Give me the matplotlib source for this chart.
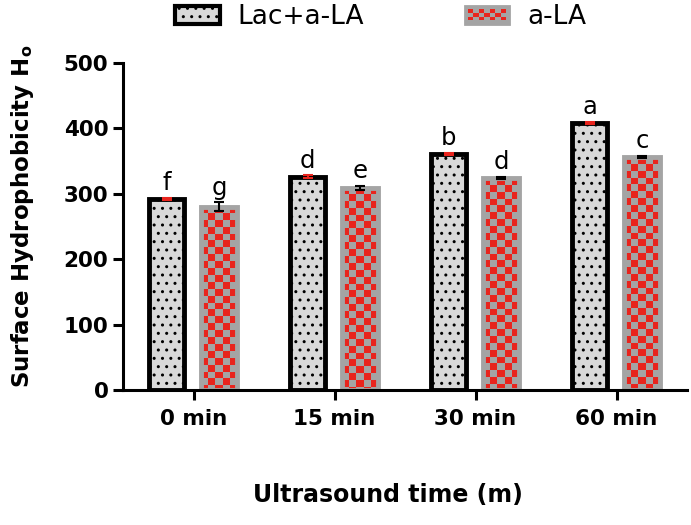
import matplotlib
matplotlib.use('Agg')
import matplotlib.pyplot as plt
import numpy as np
from matplotlib.patches import Rectangle, Patch
from matplotlib.colors import to_rgba

# data
times = ['0 min', '15 min', '30 min', '60 min']
lac_ala = [292, 326, 361, 408]
lac_ala_err = [2, 2, 2, 2]
ala = [280, 309, 324, 356]
ala_err = [7, 3, 1.5, 1.5]
lac_ala_letters = ['f', 'd', 'b', 'a']
ala_letters = ['g', 'e', 'd', 'c']

RED = '#e8241d'
GRAY = '#a4a4a4'
LIGHT = '#d9d9d9'

plt.rcParams['font.family'] = 'DejaVu Sans'
plt.rcParams['hatch.linewidth'] = 1.0


class CheckerHandler:
    """legend box with a red/gray checker, like the a-LA bars"""
    def legend_artist(self, legend, orig_handle, fontsize, handlebox):
        x0, y0 = -handlebox.xdescent, -handlebox.ydescent
        w, h = handlebox.width, handlebox.height
        tr = handlebox.get_transform()
        bg = Rectangle((x0, y0), w, h, facecolor=GRAY, edgecolor=GRAY, lw=2, transform=tr)
        handlebox.add_artist(bg)
        pad = 2.5
        ncol, nrow = 7, 3
        cw, ch = (w - 2 * pad) / ncol, (h - 2 * pad) / nrow
        for i in range(nrow):
            for j in range(ncol):
                if (i + j) % 2 == 0:
                    handlebox.add_artist(Rectangle((x0 + pad + j * cw, y0 + pad + i * ch), cw, ch,
                                                   facecolor=RED, lw=0, transform=tr))
        return bg


fig = plt.figure(figsize=(6.91, 5.25), dpi=100)
ax = fig.add_axes([123 / 691, 1 - 390 / 525, (687 - 123) / 691, (390 - 63) / 525])

x = np.arange(len(times))
w = 0.25
off1, off2 = -0.19, 0.18

b1 = ax.bar(x + off1, lac_ala, w, color=LIGHT, edgecolor='black', linewidth=3.5,
            hatch='..', zorder=2)
b2 = ax.bar(x + off2, ala, w, color=GRAY, edgecolor='none', zorder=2)

# checker fill for the a-LA bars
cell_y = 10.5
for rect in b2:
    x0, bw, h = rect.get_x(), rect.get_width(), rect.get_height()
    ncol = 5
    nrow = int(np.ceil(h / cell_y))
    pattern = np.add.outer(np.arange(nrow), np.arange(ncol)) % 2
    img = np.where(pattern[..., None] == 0, np.array(to_rgba(RED)), np.array(to_rgba(GRAY)))
    im = ax.imshow(img, extent=(x0, x0 + bw, h - nrow * cell_y, h), origin='upper',
                   aspect='auto', interpolation='nearest', zorder=2.1)
    im.set_clip_path(rect)
ax.bar(x + off2, ala, w, color='none', edgecolor=GRAY, linewidth=3.5, zorder=2.2)

ax.errorbar(x + off1, lac_ala, yerr=lac_ala_err, fmt='none', ecolor=RED,
            elinewidth=1.5, capsize=3.5, capthick=1.5, zorder=3)
ax.errorbar(x + off2, ala, yerr=ala_err, fmt='none', ecolor='black',
            elinewidth=1.5, capsize=3.5, capthick=1.5, zorder=3)

for xi, v, e, t in zip(x + off1, lac_ala, lac_ala_err, lac_ala_letters):
    ax.annotate(t, (xi, v + e), xytext=(0, 2), textcoords='offset points',
                ha='center', va='bottom', fontsize=17.5)
for xi, v, e, t in zip(x + off2, ala, ala_err, ala_letters):
    ax.annotate(t, (xi, v + e), xytext=(0, 2), textcoords='offset points',
                ha='center', va='bottom', fontsize=17.5)

ax.set_xlim(-0.5, 3.5)
ax.set_ylim(0, 500)
ax.set_xticks(x)
ax.set_xticklabels(times)
ax.set_yticks(range(0, 501, 100))
ax.tick_params(axis='both', width=2.2, length=7, labelsize=15.5)
ax.tick_params(axis='x', pad=7)
for lbl in ax.get_xticklabels() + ax.get_yticklabels():
    lbl.set_fontweight('bold')

for s in ['top', 'right']:
    ax.spines[s].set_visible(False)
for s in ['left', 'bottom']:
    ax.spines[s].set_linewidth(2.2)

ax.set_ylabel(r'Surface Hydrophobicity H$_\mathbf{o}$', fontsize=16.5, fontweight='bold')
ax.yaxis.set_label_coords(-0.155, 0.53)
ax.set_xlabel('Ultrasound time (m)', fontsize=17, fontweight='bold')
ax.xaxis.set_label_coords(0.47, -0.285)

h1 = Patch(facecolor=LIGHT, edgecolor='black', linewidth=3, hatch='..')
h2 = Patch(facecolor=GRAY)
fig.legend([h1, h2], ['Lac+a-LA', 'a-LA'], handler_map={h2: CheckerHandler()},
           loc='center left', bbox_to_anchor=(175 / 691, 1 - 17 / 525), ncol=2,
           frameon=False, fontsize=19, handlelength=1.7, handleheight=0.68,
           handletextpad=0.68, columnspacing=3.8, borderpad=0, borderaxespad=0)

fig.savefig('out.png', dpi=100)
